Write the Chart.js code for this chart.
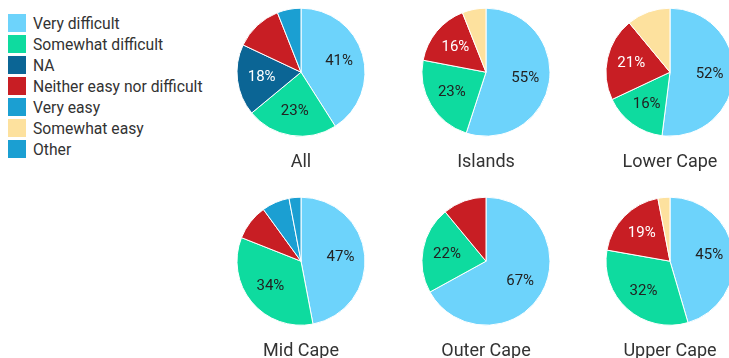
<!DOCTYPE html>
<html>
<head>
<meta charset="utf-8">
<script src="https://cdn.jsdelivr.net/npm/chart.js@4"></script>
<style>
  body { margin: 0; width: 729px; height: 358px; overflow: hidden; background: #fff; font-family: Roboto, sans-serif; }
  #legend { position: absolute; left: 8px; top: 14px; }
  .item { display: flex; align-items: center; height: 18px; margin-bottom: 3px; font-size: 15.7px; color: #333; }
  .box { width: 18px; height: 18px; margin-right: 7px; }
  .cell { position: absolute; width: 184px; height: 189px; }
</style>
</head>
<body>
<div id="legend"></div>
<div id="charts"></div>
<script>
const categories = ['Very difficult', 'Somewhat difficult', 'NA', 'Neither easy nor difficult', 'Very easy', 'Somewhat easy', 'Other'];
const colors = ['#6dd3fb', '#0edb9f', '#0b6595', '#c81e24', '#1b9fd2', '#fde19e', '#1b9fd2'];
const labelColors = ['#222', '#222', '#fff', '#fff', '#fff', '#222', '#fff'];

const regions = ['All', 'Islands', 'Lower Cape', 'Mid Cape', 'Outer Cape', 'Upper Cape'];
const all = [41, 23, 18, 12, 6, 0, 0];
const islands = [55, 23, 0, 16, 0, 6, 0];
const lowerCape = [52, 16, 0, 21, 0, 11, 0];
const midCape = [47, 34, 0, 9, 7, 0, 3];
const outerCape = [67, 22, 0, 11, 0, 0, 0];
const upperCape = [45, 32, 0, 19, 0, 3, 0];
const regionValues = [all, islands, lowerCape, midCape, outerCape, upperCape];

// legend on the left
const legend = document.getElementById('legend');
categories.forEach((c, i) => {
    legend.innerHTML += `<div class="item"><div class="box" style="background:${colors[i]}"></div>${c}</div>`;
});

// percentage text inside the bigger slices
const sliceLabels = {
    id: 'sliceLabels',
    afterDatasetsDraw(chart) {
        const ctx = chart.ctx;
        const values = chart.data.datasets[0].data;
        chart.getDatasetMeta(0).data.forEach((arc, i) => {
            if (values[i] < 15) return;
            const mid = (arc.startAngle + arc.endAngle) / 2;
            const r = arc.outerRadius * 0.62;
            ctx.save();
            ctx.font = '15px Roboto';
            ctx.fillStyle = labelColors[i];
            ctx.textAlign = 'center';
            ctx.textBaseline = 'middle';
            ctx.fillText(values[i] + '%', arc.x + Math.cos(mid) * r, arc.y + Math.sin(mid) * r);
            ctx.restore();
        });
    }
};

const holder = document.getElementById('charts');
regions.forEach((name, k) => {
    const cell = document.createElement('div');
    cell.className = 'cell';
    cell.style.left = (209 + (k % 3) * 184.5) + 'px';
    cell.style.top = (Math.floor(k / 3) * 189) + 'px';
    const canvas = document.createElement('canvas');
    canvas.width = 184;
    canvas.height = 189;
    cell.appendChild(canvas);
    holder.appendChild(cell);

    new Chart(canvas, {
        type: 'pie',
        data: {
            labels: categories,
            datasets: [{
                data: regionValues[k],
                backgroundColor: colors,
                borderColor: '#fff',
                borderWidth: 1,
                radius: 64
            }]
        },
        options: {
            responsive: false,
            animation: false,
            layout: { padding: { top: 0, bottom: 16 } },
            plugins: {
                legend: { display: false },
                tooltip: { enabled: false },
                title: {
                    display: true,
                    text: name,
                    position: 'bottom',
                    color: '#333',
                    font: { family: 'Roboto', size: 18, weight: 'normal' },
                    padding: { top: 7, bottom: 0 }
                }
            }
        },
        plugins: [sliceLabels]
    });
});
</script>
</body>
</html>
